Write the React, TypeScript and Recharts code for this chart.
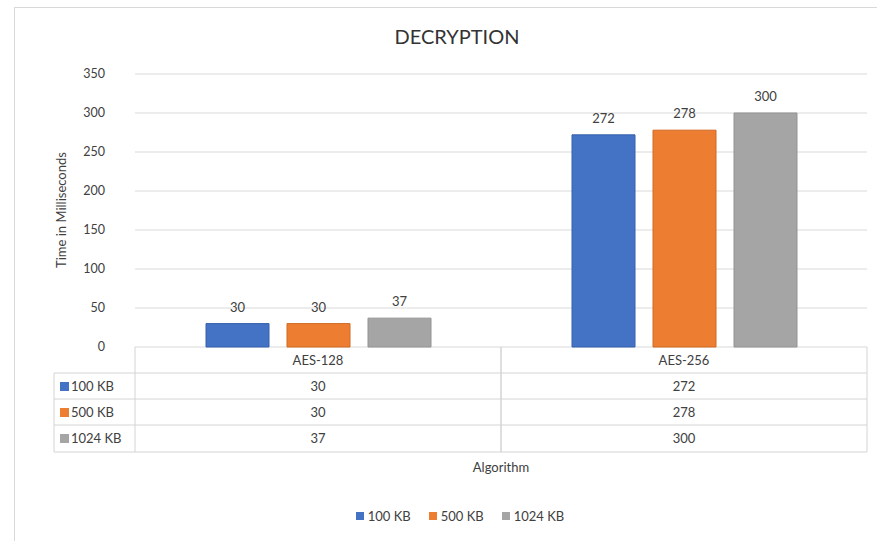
import { Bar, BarChart, CartesianGrid, LabelList, XAxis, YAxis } from "recharts";

const categories = ["AES-128", "AES-256"];
const seriesNames = ["100 KB", "500 KB", "1024 KB"];
const kb100 = [30, 272];
const kb500 = [30, 278];
const kb1024 = [37, 300];
const yTicks = [0, 50, 100, 150, 200, 250, 300, 350];

const seriesKeys = ["kb100", "kb500", "kb1024"];
const seriesValues = [kb100, kb500, kb1024];
const colors = ["#4472C4", "#ED7D31", "#A5A5A5"];
const strokes = ["#3560AE", "#D06A22", "#939393"];

const data = categories.map((algorithm, i) => ({
  algorithm,
  kb100: kb100[i],
  kb500: kb500[i],
  kb1024: kb1024[i],
}));

const W = 877;
const H = 541;
const MARGIN = { top: 74, right: 10, left: 75, bottom: 89 };
const Y_WIDTH = 60;
const X_HEIGHT = 105;
const BAND = (W - MARGIN.left - Y_WIDTH - MARGIN.right) / categories.length;
const ROW = 26;
const TABLE_LEFT = 54;
const LINE = "#d4d4d4";
const FONT = "Lato, 'Open Sans', sans-serif";
const TEXT = "#404040";

function TableTick(props: any) {
  const { x, y, payload, index } = props;
  const left = x - BAND / 2;
  const right = x + BAND / 2;
  const bottom = y + ROW * 4 + 1;
  const idx = categories.indexOf(payload.value);
  return (
    <g fontFamily={FONT} fontSize={13} fill={TEXT}>
      {[1, 2, 3].map((r) => (
        <line key={r} x1={left} x2={right} y1={y + ROW * r} y2={y + ROW * r} stroke={LINE} />
      ))}
      <line x1={left} x2={right} y1={bottom} y2={bottom} stroke={LINE} />
      <line x1={left} x2={left} y1={y} y2={bottom} stroke={LINE} />
      <line x1={right} x2={right} y1={y} y2={bottom} stroke={LINE} />
      <text x={x} y={y + 18} textAnchor="middle">
        {payload.value}
      </text>
      {seriesValues.map((vals, r) => (
        <text key={r} x={x} y={y + ROW * (r + 1) + 18} textAnchor="middle">
          {vals[idx]}
        </text>
      ))}
      {index === 0 && (
        <g>
          {[1, 2, 3].map((r) => (
            <line key={r} x1={TABLE_LEFT} x2={left} y1={y + ROW * r} y2={y + ROW * r} stroke={LINE} />
          ))}
          <line x1={TABLE_LEFT} x2={left} y1={bottom} y2={bottom} stroke={LINE} />
          <line x1={TABLE_LEFT} x2={TABLE_LEFT} y1={y + ROW} y2={bottom} stroke={LINE} />
          {seriesNames.map((name, r) => (
            <g key={name}>
              <rect x={TABLE_LEFT + 6} y={y + ROW * (r + 1) + 9} width={9} height={9} fill={colors[r]} />
              <text x={TABLE_LEFT + 17} y={y + ROW * (r + 1) + 18} textAnchor="start">
                {name}
              </text>
            </g>
          ))}
        </g>
      )}
    </g>
  );
}

export default function App() {
  return (
    <div style={{ position: "absolute", left: 0, top: 0, width: W, height: H, background: "#fff", fontFamily: FONT }}>
      <div
        style={{
          position: "absolute",
          left: 14,
          top: 7,
          right: 0,
          bottom: 0,
          borderLeft: "1px solid #d9d9d9",
          borderTop: "1px solid #d9d9d9",
        }}
      />
      <div
        style={{
          position: "absolute",
          left: 0,
          width: 914,
          top: 24,
          textAlign: "center",
          fontSize: 20,
          fontWeight: 400,
          color: "#333",
        }}
      >
        DECRYPTION
      </div>
      <BarChart
        width={W}
        height={H}
        data={data}
        margin={MARGIN}
        barSize={63}
        barGap={18}
        barCategoryGap={70}
        style={{ position: "absolute", left: 0, top: 0 }}
      >
        <CartesianGrid vertical={false} stroke="#d9d9d9" />
        <YAxis
          width={Y_WIDTH}
          domain={[0, 350]}
          ticks={yTicks}
          axisLine={false}
          tickLine={false}
          tickMargin={24}
          tick={{ fill: TEXT, fontSize: 12.5, fontFamily: FONT }}
          label={{
            content: () => (
              <text
                x={61}
                y={210}
                transform="rotate(-90, 61, 210)"
                textAnchor="middle"
                dominantBaseline="central"
                fill={TEXT}
                fontSize={13}
                fontFamily={FONT}
              >
                Time in Milliseconds
              </text>
            ),
          }}
        />
        <XAxis
          dataKey="algorithm"
          height={X_HEIGHT}
          axisLine={false}
          tickLine={false}
          tickSize={0}
          tickMargin={0}
          interval={0}
          tick={<TableTick />}
        />
        {seriesKeys.map((key, i) => (
          <Bar
            key={key}
            dataKey={key}
            name={seriesNames[i]}
            fill={colors[i]}
            stroke={strokes[i]}
            strokeWidth={1}
            isAnimationActive={false}
          >
            <LabelList dataKey={key} position="top" offset={12} fill={TEXT} fontSize={13} fontFamily={FONT} />
          </Bar>
        ))}
      </BarChart>
      <div style={{ position: "absolute", left: 135, width: 732, top: 459, textAlign: "center", fontSize: 13, color: TEXT }}>
        Algorithm
      </div>
      <div
        style={{
          position: "absolute",
          left: 0,
          width: 920,
          top: 508,
          display: "flex",
          justifyContent: "center",
          gap: 18,
          fontSize: 13,
          color: TEXT,
        }}
      >
        {seriesNames.map((name, i) => (
          <div key={name} style={{ display: "flex", alignItems: "center", gap: 4 }}>
            <span style={{ width: 8, height: 8, background: colors[i], display: "inline-block" }} />
            {name}
          </div>
        ))}
      </div>
    </div>
  );
}
